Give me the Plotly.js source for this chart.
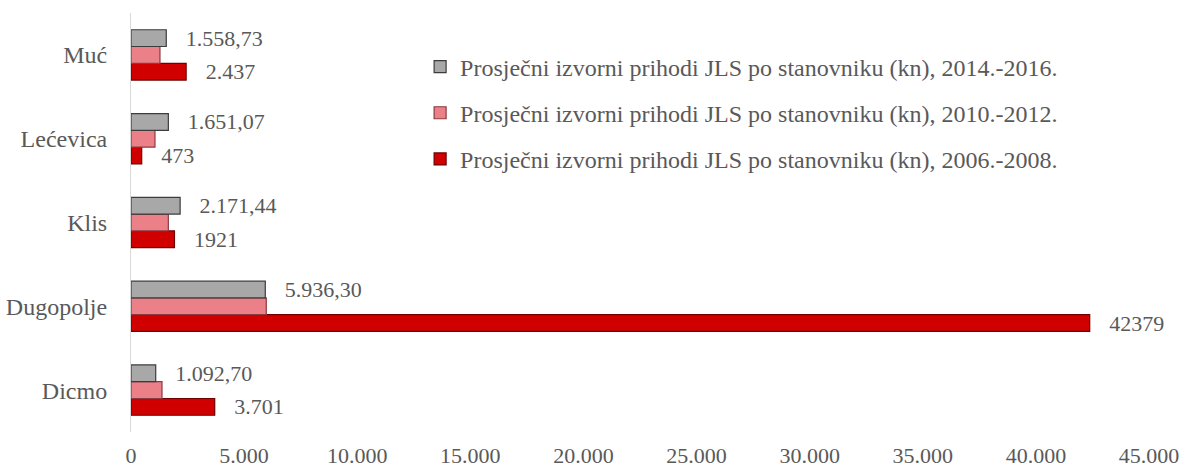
<!DOCTYPE html>
<html>
<head>
<meta charset="utf-8">
<script src="https://cdn.plot.ly/plotly-3.0.1.min.js"></script>
<style>html,body{margin:0;padding:0;background:#fff}#chart{width:1186px;height:470px}</style>
</head>
<body>
<div id="chart"></div>
<script>
const categories = ['Dicmo', 'Dugopolje', 'Klis', 'Lećevica', 'Muć'];
const seriesNames = [
  'Prosječni izvorni prihodi JLS po stanovniku (kn), 2006.-2008.',
  'Prosječni izvorni prihodi JLS po stanovniku (kn), 2010.-2012.',
  'Prosječni izvorni prihodi JLS po stanovniku (kn), 2014.-2016.'
];
const values2006 = [3701, 42379, 1921, 473, 2437];
const values2010 = [1370, 5980, 1650, 1060, 1280];
const values2014 = [1092.70, 5936.30, 2171.44, 1651.07, 1558.73];
const labels2006 = ['3.701', '42379', '1921', '473', '2.437'];
const labels2014 = ['1.092,70', '5.936,30', '2.171,44', '1.651,07', '1.558,73'];
const xTickVals = [0, 5000, 10000, 15000, 20000, 25000, 30000, 35000, 40000, 45000];

const FAM = 'Liberation Serif, Times New Roman, serif';
const GREY = '#595959';
const pad = s => '\u00a0\u00a0\u00a0' + s;
const txtFont = {family: FAM, size: 22, color: GREY};

const traces = [
  {type: 'bar', orientation: 'h', name: seriesNames[0], y: categories, x: values2006,
   text: labels2006.map(pad), textposition: 'outside', textfont: txtFont, constraintext: 'none', cliponaxis: false,
   marker: {color: '#d00000', line: {color: '#6e0000', width: 1.2}}, legendgroup: 'a', legendrank: 3, hoverinfo: 'x'},
  {type: 'bar', orientation: 'h', name: seriesNames[1], y: categories, x: values2010,
   textposition: 'none',
   marker: {color: '#ec8088', line: {color: '#8a3a40', width: 1.2}}, legendgroup: 'b', legendrank: 2, hoverinfo: 'x'},
  {type: 'bar', orientation: 'h', name: seriesNames[2], y: categories, x: values2014,
   text: labels2014.map(pad), textposition: 'outside', textfont: txtFont, constraintext: 'none', cliponaxis: false,
   marker: {color: '#a8a8a8', line: {color: '#3c3c3c', width: 1.2}}, legendgroup: 'c', legendrank: 1, hoverinfo: 'x'}
];

const layout = {
  width: 1186, height: 470,
  margin: {l: 131, r: 37, t: 13, b: 38, pad: 0},
  paper_bgcolor: '#ffffff', plot_bgcolor: '#ffffff',
  separators: ',.',
  font: {family: FAM, size: 22, color: GREY},
  barmode: 'group', bargap: 0.4, bargroupgap: 0,
  showlegend: true,
  legend: {x: 0.284, y: 0.925, xanchor: 'left', yanchor: 'top', traceorder: 'grouped',
           tracegroupgap: 12, itemwidth: 30, bgcolor: 'rgba(0,0,0,0)', font: {family: FAM, size: 24, color: GREY}},
  xaxis: {range: [0, 45000], tickvals: xTickVals, tickformat: ',d', showgrid: false, zeroline: false,
          showline: false, ticks: '', ticklabelstandoff: 8, tickfont: {size: 22}, fixedrange: true},
  yaxis: {type: 'category', categoryorder: 'array', categoryarray: categories, showgrid: false,
          showline: true, linecolor: '#d9d9d9', linewidth: 1, ticks: '', ticklabelstandoff: 18,
          tickfont: {size: 24}, fixedrange: true}
};

Plotly.newPlot('chart', traces, layout, {displayModeBar: false, staticPlot: true});
</script>
</body>
</html>
